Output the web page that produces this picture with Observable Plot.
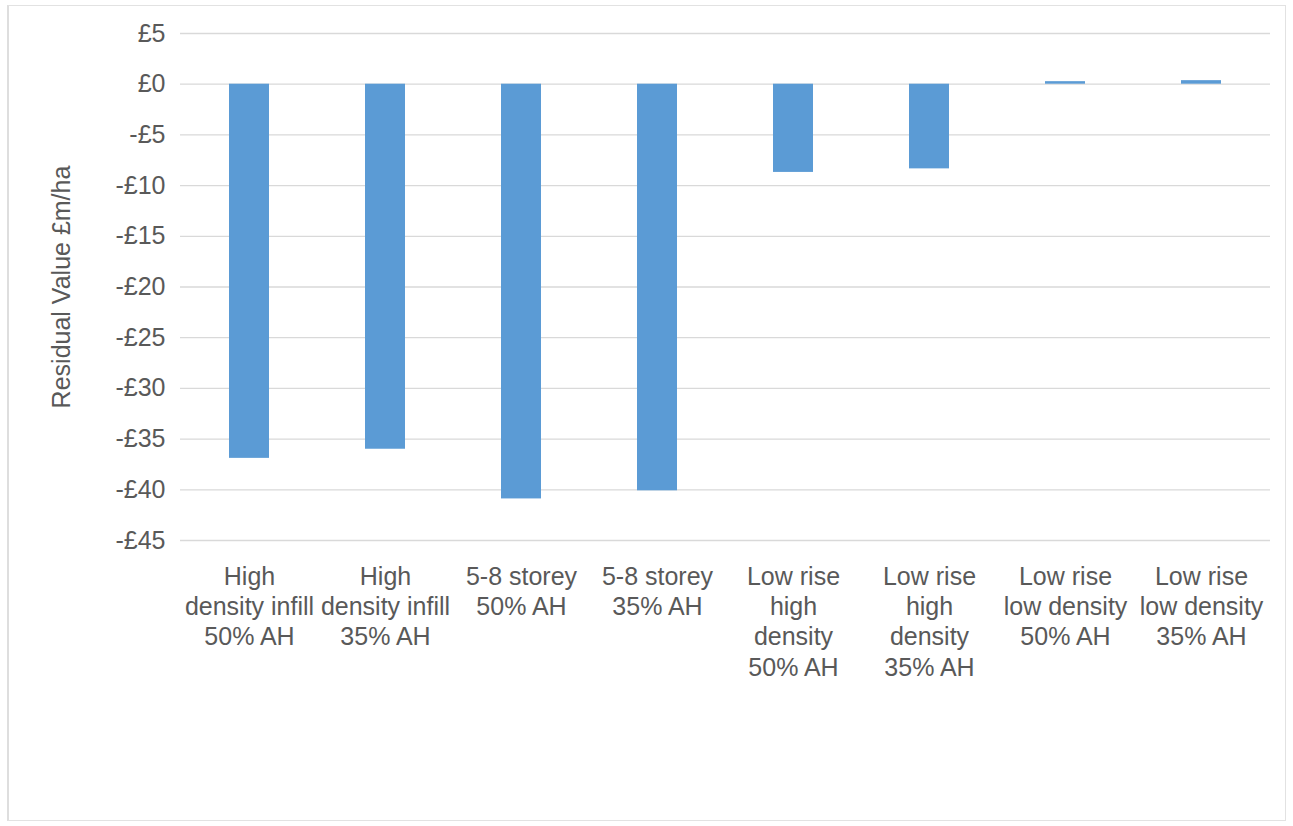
<!DOCTYPE html>
<html>
<head>
<meta charset="utf-8">
<script src="https://cdn.jsdelivr.net/npm/d3@7"></script>
<script src="https://cdn.jsdelivr.net/npm/@observablehq/plot@0.6"></script>
<style>
  html, body { margin: 0; padding: 0; background: #ffffff; }
  #wrap { position: relative; width: 1293px; height: 826px; }
  #border { position: absolute; left: 7px; top: 5px; width: 1276px; height: 814px;
            border: 1px solid #e2e2e2; border-left: 2px solid #dedede; pointer-events: none; }
</style>
</head>
<body>
<div id="wrap"><div id="border"></div><div id="chart"></div></div>
<script>
// Categories (tick labels, multi-line as wrapped in the original)
const categories = [
  "High\ndensity infill\n50% AH",
  "High\ndensity infill\n35% AH",
  "5-8 storey\n50% AH",
  "5-8 storey\n35% AH",
  "Low rise\nhigh\ndensity\n50% AH",
  "Low rise\nhigh\ndensity\n35% AH",
  "Low rise\nlow density\n50% AH",
  "Low rise\nlow density\n35% AH"
];
// Residual value, £m/ha
const residualValues = [-36.9, -36.0, -40.9, -40.1, -8.7, -8.35, 0.25, 0.35];
const yTicks = [5, 0, -5, -10, -15, -20, -25, -30, -35, -40, -45];
const yLabel = "Residual Value £m/ha";

const data = categories.map((c, i) => ({category: c, value: residualValues[i]}));

const fmt = v => (v < 0 ? "-£" + Math.abs(v) : "£" + v);

const chart = Plot.plot({
  width: 1293,
  height: 826,
  marginLeft: 180,
  marginRight: 23,
  marginTop: 33,
  marginBottom: 286,
  style: {fontFamily: "Arial, 'Liberation Sans', sans-serif", background: "transparent"},
  x: {domain: categories, padding: 0},
  y: {domain: [-45, 5], ticks: yTicks},
  marks: [
    Plot.gridY(yTicks, {stroke: "#d9d9d9", strokeOpacity: 1, strokeWidth: 1.3}),
    Plot.barY(data, {x: "category", y: "value", fill: "#5b9bd5", insetLeft: 48, insetRight: 48}),
    Plot.axisY(yTicks, {
      tickSize: 0, tickPadding: 15, tickFormat: fmt, fontSize: 25,
      fill: "#595959", label: null
    }),
    Plot.axisX({
      tickSize: 0, tickPadding: 23, fontSize: 25, lineHeight: 1.21,
      fill: "#595959", label: null
    }),
    Plot.text([yLabel], {
      frameAnchor: "left", dx: -119, rotate: -90, fontSize: 25,
      fill: "#595959", textAnchor: "middle"
    })
  ]
});
document.getElementById("chart").appendChild(chart);
</script>
</body>
</html>
